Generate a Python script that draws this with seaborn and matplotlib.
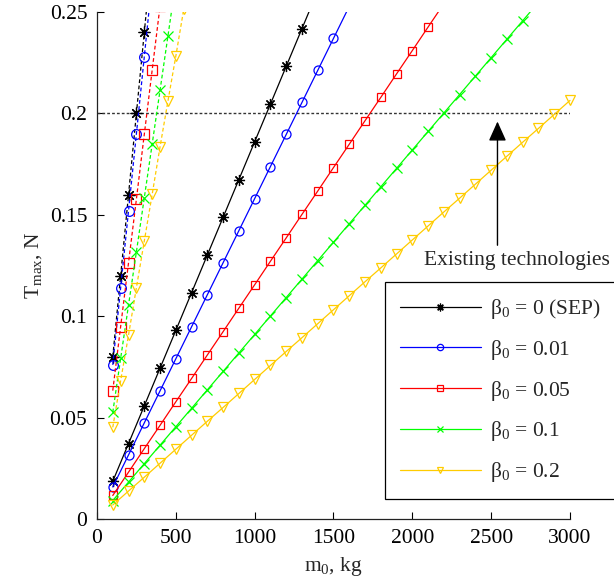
import matplotlib
matplotlib.use("Agg")
import matplotlib.pyplot as plt
import seaborn as sns
import pandas as pd

sns.set_theme(style="ticks")
plt.rcParams["font.family"] = ["Liberation Serif", "DejaVu Serif"]
plt.rcParams["mathtext.fontset"] = "custom"
plt.rcParams["mathtext.rm"] = "Liberation Serif"
plt.rcParams["mathtext.it"] = "Liberation Serif"
plt.rcParams["mathtext.bf"] = "Liberation Serif:bold"

# ---------------- data ----------------
labels = ["β$_0$ = 0 (SEP)", "β$_0$ = 0.01", "β$_0$ = 0.05", "β$_0$ = 0.1", "β$_0$ = 0.2"]
colors = ["#000000", "#0000ff", "#ff0000", "#00ff00", "#ffcc00"]

# solid curves, sampled every 100 kg starting at 100 kg
mass_solid = list(range(100, 3100, 100))
t_solid_sep = [0.0186, 0.0372, 0.0558, 0.0744, 0.0930, 0.1116, 0.1302, 0.1488, 0.1674,
               0.1860, 0.2046, 0.2232, 0.2418, 0.2604]
t_solid_001 = [0.0158, 0.0316, 0.0474, 0.0632, 0.0790, 0.0948, 0.1106, 0.1264, 0.1422,
               0.1580, 0.1738, 0.1896, 0.2054, 0.2212, 0.2370, 0.2528]
t_solid_005 = [0.0116, 0.0231, 0.0347, 0.0462, 0.0578, 0.0693, 0.0809, 0.0924, 0.1040,
               0.1155, 0.1271, 0.1386, 0.1502, 0.1617, 0.1733, 0.1848, 0.1964, 0.2079,
               0.2195, 0.2310, 0.2426, 0.2541]
t_solid_01 = [0.0091, 0.0182, 0.0273, 0.0364, 0.0455, 0.0546, 0.0637, 0.0728, 0.0819,
              0.0910, 0.1001, 0.1092, 0.1183, 0.1274, 0.1365, 0.1456, 0.1547, 0.1638,
              0.1729, 0.1820, 0.1911, 0.2002, 0.2093, 0.2184, 0.2275, 0.2366, 0.2457,
              0.2548]
t_solid_02 = [0.0069, 0.0138, 0.0206, 0.0275, 0.0344, 0.0413, 0.0482, 0.0550, 0.0619,
              0.0688, 0.0757, 0.0826, 0.0894, 0.0963, 0.1032, 0.1101, 0.1170, 0.1238,
              0.1307, 0.1376, 0.1445, 0.1514, 0.1582, 0.1651, 0.1720, 0.1789, 0.1858,
              0.1926, 0.1995, 0.2064]

# dashed curves, sampled every 50 kg starting at 100 kg
mass_dashed = list(range(100, 600, 50))
t_dashed_sep = [0.080, 0.120, 0.160, 0.200, 0.240, 0.280]
t_dashed_001 = [0.076, 0.114, 0.152, 0.190, 0.228, 0.266]
t_dashed_005 = [0.0633, 0.0949, 0.1264, 0.1578, 0.1897, 0.2214, 0.2530]
t_dashed_01 = [0.0526, 0.0792, 0.1055, 0.1318, 0.1584, 0.1849, 0.2115, 0.2382, 0.2650]
t_dashed_02 = [0.0452, 0.0682, 0.0907, 0.1141, 0.1371, 0.1601, 0.1836, 0.2061, 0.2283,
               0.2513]

threshold = 0.2
arrow_mass = 2540
arrow_tail, arrow_tip = 0.135, 0.196
note_text = "Existing technologies"
note_mass, note_t = 2662, 0.1275

xticks = [0, 500, 1000, 1500, 2000, 2500, 3000]
yticks = [0, 0.05, 0.1, 0.15, 0.2, 0.25]
ytick_labels = ["0", "0.05", "0.1", "0.15", "0.2", "0.25"]

solid = [t_solid_sep, t_solid_001, t_solid_005, t_solid_01, t_solid_02]
dashed = [t_dashed_sep, t_dashed_001, t_dashed_005, t_dashed_01, t_dashed_02]
markers = [(8, 2, 0), "o", "s", "x", "v"]
facecolors = ["none", "none", "none", "none", "none"]
msizes = [8, 6.5, 6, 6.5, 6.5]

# ---------------- figure ----------------
fig = plt.figure(figsize=(6.14, 5.87), dpi=100)
ax = fig.add_axes([97 / 614, 1 - 519 / 587, (570 - 97) / 614, (519 - 12) / 587])

FS = 15.5
for i in range(5):
    df_s = pd.DataFrame({"m": mass_solid[:len(solid[i])], "t": solid[i]})
    sns.lineplot(data=df_s, x="m", y="t", ax=ax, color=colors[i], marker=markers[i],
                 markersize=msizes[i], markerfacecolor=facecolors[i],
                 markeredgecolor=colors[i], markeredgewidth=0.9, linewidth=0.9,
                 estimator=None, sort=False, label=labels[i],
                 clip_on=(i != 4))
    df_d = pd.DataFrame({"m": mass_dashed[:len(dashed[i])], "t": dashed[i]})
    sns.lineplot(data=df_d, x="m", y="t", ax=ax, color=colors[i], marker=markers[i],
                 markersize=msizes[i] + 0.5, markerfacecolor=facecolors[i],
                 markeredgecolor=colors[i], markeredgewidth=0.9, linewidth=0.9,
                 linestyle=(0, (3, 2)), estimator=None, sort=False)

ax.axhline(threshold, color="#333333", linewidth=1.0, linestyle=(0, (2, 1.5)), zorder=1)

ax.annotate("", xy=(arrow_mass, arrow_tip), xytext=(arrow_mass, arrow_tail),
            arrowprops=dict(arrowstyle="-|>,head_width=0.27,head_length=0.6",
                            color="black", lw=1.0, mutation_scale=20,
                            shrinkA=0, shrinkB=0))
ax.text(note_mass, note_t, note_text, ha="center", va="center", fontsize=FS)

ax.set_xlim(0, 3000)
ax.set_ylim(0, 0.25)
ax.set_xticks(xticks)
ax.set_xticklabels([str(v) for v in xticks])
ax.set_yticks(yticks)
ax.set_yticklabels(ytick_labels)
ax.tick_params(direction="in", length=5, width=0.8, colors="black", labelsize=FS, pad=7)
sns.despine(ax=ax)
for s in ("left", "bottom"):
    ax.spines[s].set_color("#222222")
    ax.spines[s].set_linewidth(0.9)

ax.set_xlabel("m$_0$, kg", fontsize=FS, labelpad=5)
ax.set_ylabel("T$_{max}$, N", fontsize=FS, labelpad=4)

line_handles = [l for l in ax.get_lines() if l.get_label() in labels]
leg = ax.legend(line_handles, labels, loc="upper left",
                bbox_to_anchor=(385 / 614, 1 - 282 / 587), bbox_transform=fig.transFigure,
                borderaxespad=0,
                frameon=True, fancybox=False, edgecolor="black", framealpha=1,
                fontsize=FS, handlelength=3.75, handletextpad=0.45, markerscale=0.7,
                borderpad=0.7, labelspacing=0.78)
leg.get_frame().set_linewidth(0.9)

fig.savefig("out.png", dpi=100)
